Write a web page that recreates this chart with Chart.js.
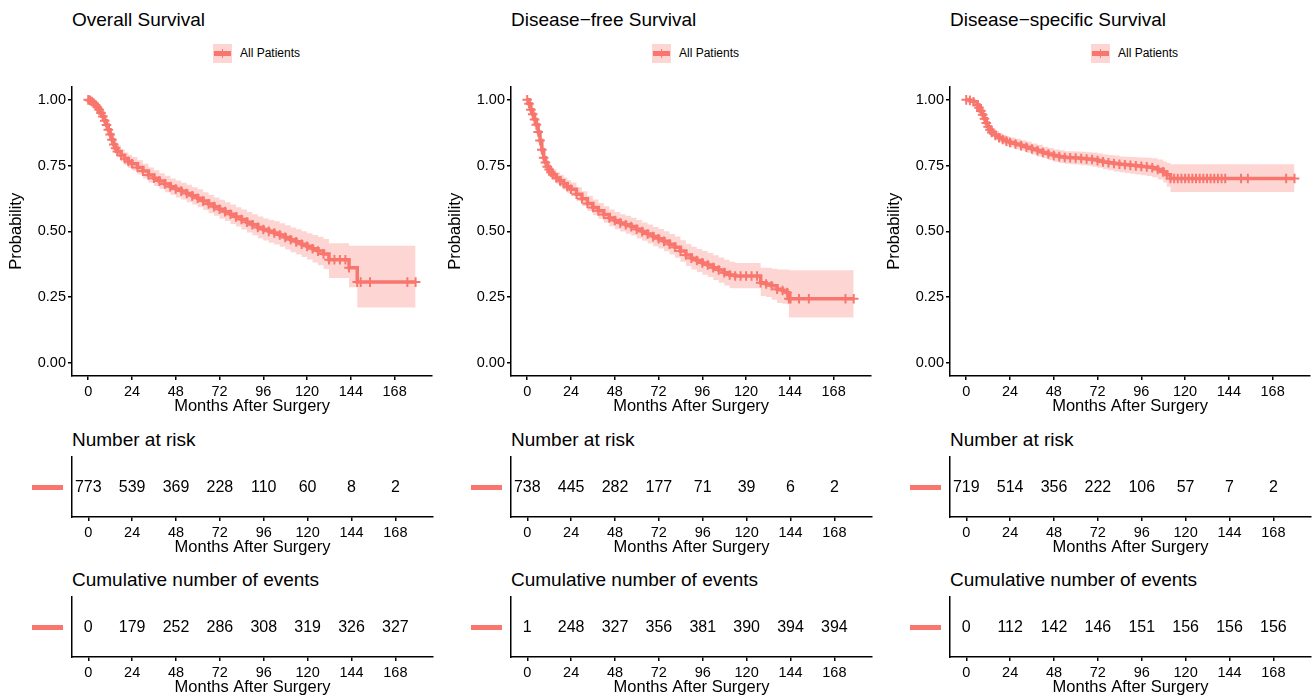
<!DOCTYPE html>
<html><head><meta charset="utf-8">
<script src="https://cdn.jsdelivr.net/npm/chart.js@4.4.1/dist/chart.umd.min.js"></script>
<style>
html,body{margin:0;padding:0;background:#fff;}
body{width:1312px;height:699px;overflow:hidden;position:relative;font-family:"Liberation Sans",Arial,Helvetica,sans-serif;color:#000;}
canvas{position:absolute;}
.ttl{position:absolute;font-size:19px;line-height:19px;white-space:nowrap;}
.lg{position:absolute;font-size:12px;line-height:12px;white-space:nowrap;}
.key{position:absolute;width:19px;height:19px;background:rgba(248,118,109,0.3);}
.key .h{position:absolute;left:1px;top:7px;width:17px;height:5px;background:#F8766D;}
.key .v{position:absolute;left:8.5px;top:5px;width:1.5px;height:9px;background:#F8766D;}
</style>
</head><body>
<script>
// ---------- data ----------
const xTicks = [0, 24, 48, 72, 96, 120, 144, 168];
const yTicks = [0, 0.25, 0.5, 0.75, 1];
const panelTitles = ["Overall Survival", "Disease\u2212free Survival", "Disease\u2212specific Survival"];
const seriesName = "All Patients";

// Overall survival
const osTime  = [0,1,2,3,4,5,6,7,8,9,10,11,12,13,14,15,16,18,20,22,24,27,30,33,36,39,42,45,48,51,54,57,60,63,66,69,72,75,78,81,84,87,90,93,96,99,102,105,108,111,114,117,120,123,126,129,132,135,138,141,143,147.5,149.4,154.5,175,179.5];
const osSurv  = [1.000,0.998,0.994,0.988,0.980,0.972,0.962,0.950,0.937,0.921,0.904,0.886,0.868,0.848,0.830,0.816,0.804,0.789,0.776,0.766,0.757,0.743,0.729,0.714,0.702,0.691,0.680,0.670,0.661,0.653,0.644,0.635,0.626,0.615,0.604,0.594,0.584,0.575,0.565,0.555,0.545,0.535,0.525,0.515,0.507,0.500,0.494,0.486,0.477,0.468,0.460,0.451,0.443,0.434,0.425,0.414,0.392,0.392,0.392,0.392,0.362,0.307,0.307,0.307,0.307,0.307];
const osLower = [1.000,0.995,0.989,0.981,0.971,0.961,0.950,0.937,0.923,0.906,0.888,0.869,0.850,0.829,0.810,0.795,0.782,0.766,0.752,0.741,0.731,0.716,0.701,0.685,0.672,0.661,0.649,0.639,0.629,0.621,0.611,0.602,0.592,0.581,0.569,0.559,0.548,0.539,0.528,0.518,0.507,0.496,0.485,0.474,0.465,0.457,0.450,0.441,0.431,0.421,0.412,0.402,0.393,0.382,0.371,0.357,0.323,0.323,0.323,0.323,0.287,0.210,0.210,0.210,0.210,0.210];
const osUpper = [1.000,1.000,0.999,0.995,0.989,0.983,0.974,0.963,0.951,0.936,0.920,0.903,0.886,0.867,0.850,0.837,0.826,0.812,0.800,0.791,0.783,0.770,0.757,0.743,0.732,0.721,0.711,0.701,0.693,0.685,0.677,0.668,0.660,0.649,0.639,0.629,0.620,0.611,0.602,0.592,0.583,0.574,0.565,0.556,0.549,0.543,0.538,0.531,0.523,0.515,0.508,0.500,0.493,0.486,0.479,0.471,0.455,0.455,0.455,0.455,0.445,0.445,0.445,0.445,0.445,0.445];
const osRisk   = [773, 539, 369, 228, 110, 60, 8, 2];
const osEvents = [0, 179, 252, 286, 308, 319, 326, 327];

// Disease-free survival
const dfsTime  = [0,1,2,3,4,5,6,7,8,9,10,11,12,13,14,16,18,20,22,24,27,30,33,36,39,42,45,48,51,54,57,60,63,66,69,72,75,78,81,84,87,90,93,96,99,102,105,108,111,114,117,120,123,126,128,131,134,137,140,142.5,143.5,144.4,149,154.4,174.5,179];
const dfsSurv  = [1.000,0.985,0.962,0.945,0.925,0.905,0.878,0.845,0.810,0.780,0.762,0.746,0.735,0.725,0.715,0.703,0.692,0.681,0.670,0.660,0.641,0.624,0.606,0.591,0.578,0.564,0.551,0.541,0.532,0.525,0.518,0.508,0.499,0.490,0.480,0.472,0.462,0.451,0.440,0.425,0.410,0.398,0.389,0.380,0.372,0.362,0.353,0.343,0.334,0.330,0.330,0.330,0.330,0.330,0.305,0.300,0.293,0.280,0.275,0.267,0.244,0.244,0.244,0.244,0.244,0.244];
const dfsLower = [1.000,0.981,0.954,0.935,0.913,0.891,0.863,0.829,0.793,0.762,0.743,0.727,0.715,0.705,0.694,0.681,0.669,0.657,0.645,0.634,0.614,0.596,0.577,0.561,0.548,0.533,0.519,0.508,0.499,0.491,0.484,0.473,0.464,0.454,0.443,0.435,0.424,0.412,0.400,0.384,0.368,0.355,0.345,0.335,0.326,0.315,0.305,0.294,0.284,0.284,0.284,0.284,0.284,0.284,0.254,0.250,0.240,0.228,0.225,0.223,0.172,0.172,0.172,0.172,0.172,0.172];
const dfsUpper = [1.000,0.989,0.970,0.955,0.937,0.919,0.893,0.861,0.827,0.798,0.781,0.765,0.755,0.745,0.736,0.725,0.715,0.705,0.695,0.686,0.668,0.652,0.635,0.621,0.608,0.595,0.583,0.574,0.565,0.559,0.552,0.543,0.534,0.526,0.517,0.509,0.500,0.490,0.480,0.466,0.452,0.441,0.433,0.425,0.418,0.409,0.401,0.392,0.384,0.380,0.380,0.380,0.380,0.380,0.362,0.362,0.358,0.355,0.355,0.355,0.352,0.352,0.352,0.352,0.352,0.352];
const dfsRisk   = [738, 445, 282, 177, 71, 39, 6, 2];
const dfsEvents = [1, 248, 327, 356, 381, 390, 394, 394];

// Disease-specific survival
const dssTime  = [0,2,4,6,7,8,9,10,11,12,13,14,16,18,20,22,24,27,30,33,36,39,42,45,48,51,54,57,60,63,66,69,72,75,78,81,84,87,90,93,96,99,102,105,108,110,112,114,116,118,120,122,124,126,128,130,132,134,136,138,140,142,150.7,154.4,175.4,180];
const dssSurv  = [1.000,0.998,0.993,0.980,0.970,0.958,0.943,0.928,0.912,0.898,0.886,0.876,0.865,0.856,0.849,0.843,0.838,0.832,0.826,0.820,0.813,0.807,0.800,0.794,0.788,0.784,0.781,0.780,0.779,0.777,0.775,0.773,0.769,0.764,0.761,0.758,0.755,0.753,0.751,0.749,0.747,0.745,0.742,0.735,0.726,0.715,0.701,0.701,0.701,0.701,0.701,0.701,0.701,0.701,0.701,0.701,0.701,0.701,0.701,0.701,0.701,0.701,0.701,0.701,0.701,0.701];
const dssLower = [1.000,0.996,0.988,0.972,0.961,0.948,0.932,0.916,0.899,0.884,0.871,0.860,0.848,0.838,0.831,0.824,0.819,0.812,0.806,0.799,0.792,0.785,0.778,0.771,0.765,0.760,0.757,0.755,0.754,0.751,0.749,0.746,0.742,0.736,0.732,0.728,0.725,0.722,0.719,0.716,0.713,0.710,0.706,0.697,0.686,0.670,0.650,0.650,0.650,0.650,0.650,0.650,0.650,0.650,0.650,0.650,0.650,0.650,0.650,0.650,0.650,0.650,0.650,0.650,0.650,0.650];
const dssUpper = [1.000,1.000,0.998,0.988,0.979,0.968,0.954,0.940,0.925,0.912,0.901,0.892,0.882,0.874,0.867,0.862,0.857,0.852,0.846,0.841,0.834,0.829,0.822,0.817,0.811,0.808,0.805,0.805,0.804,0.803,0.801,0.800,0.796,0.792,0.790,0.788,0.785,0.784,0.783,0.782,0.781,0.780,0.778,0.773,0.766,0.760,0.755,0.755,0.755,0.755,0.755,0.755,0.755,0.755,0.755,0.755,0.755,0.755,0.755,0.755,0.755,0.755,0.755,0.755,0.755,0.755];
const dssRisk   = [719, 514, 356, 222, 106, 57, 7, 2];
const dssEvents = [0, 112, 142, 146, 151, 156, 156, 156];

// ---------- style / layout ----------
const RED = '#F8766D';
const CI = 'rgba(248,118,109,0.3)';
const FONT = '"Liberation Sans", Arial, Helvetica, sans-serif';
const COLX = [72, 511, 950];
const X_MIN = -8.9, X_MAX = 188.6;

Chart.defaults.font.family = FONT;
Chart.defaults.color = '#000';

const panels = [
  {title: panelTitles[0], t: osTime, s: osSurv, lo: osLower, hi: osUpper, risk: osRisk, ev: osEvents},
  {title: panelTitles[1], t: dfsTime, s: dfsSurv, lo: dfsLower, hi: dfsUpper, risk: dfsRisk, ev: dfsEvents},
  {title: panelTitles[2], t: dssTime, s: dssSurv, lo: dssLower, hi: dssUpper, risk: dssRisk, ev: dssEvents}
];

function addDiv(cls, text, left, top) {
  const d = document.createElement('div');
  d.className = cls; d.textContent = text;
  d.style.left = left + 'px'; d.style.top = top + 'px';
  document.body.appendChild(d);
  return d;
}
function addCanvas(left, top, w, h) {
  const c = document.createElement('canvas');
  c.width = w; c.height = h;
  c.style.left = left + 'px'; c.style.top = top + 'px';
  c.style.width = w + 'px'; c.style.height = h + 'px';
  document.body.appendChild(c);
  return c;
}
function xScale() {
  return {
    type: 'linear', min: X_MIN, max: X_MAX,
    afterBuildTicks: s => { s.ticks = xTicks.map(v => ({value: v})); },
    afterFit: s => { s.height = 40; },
    ticks: {font: {size: 14.5}, color: '#000', padding: 3, maxRotation: 0, autoSkip: false, callback: v => String(v)},
    grid: {drawOnChartArea: false, drawTicks: true, tickLength: 4, color: '#000', lineWidth: 1.5},
    border: {display: true, color: '#000', width: 1.5},
    title: {display: true, text: 'Months After Surgery', font: {size: 16.5}, color: '#000', padding: {top: 0, bottom: 0}}
  };
}

const tablePlugin = {
  id: 'tableText',
  afterDatasetsDraw(chart) {
    const ctx = chart.ctx;
    const ds = chart.data.datasets[0];
    const meta = chart.getDatasetMeta(0);
    ctx.save();
    ctx.font = '16px ' + FONT;
    ctx.fillStyle = '#000';
    ctx.textAlign = 'center';
    ctx.textBaseline = 'middle';
    meta.data.forEach((pt, i) => ctx.fillText(String(ds.texts[i]), pt.x, pt.y + 1));
    const y = chart.scales.y.getPixelForValue(0.5);
    ctx.fillStyle = RED;
    ctx.fillRect(chart.chartArea.left - 40, y - 2, 31, 5);
    ctx.restore();
  }
};

function tableChart(canvas, values) {
  return new Chart(canvas, {
    type: 'line',
    data: {datasets: [{
      data: xTicks.map(t => ({x: t, y: 0.5})),
      texts: values,
      showLine: false, pointRadius: 0, borderWidth: 0
    }]},
    options: {
      responsive: false, animation: false, events: [],
      layout: {padding: {top: 7, right: 6, bottom: 0, left: 0}},
      plugins: {legend: {display: false}, tooltip: {enabled: false}},
      scales: {
        x: xScale(),
        y: {type: 'linear', min: 0, max: 1,
            afterFit: s => { s.width = 72; },
            ticks: {display: false},
            grid: {display: false, drawTicks: false},
            border: {display: true, color: '#000', width: 1.5}}
      }
    },
    plugins: [tablePlugin]
  });
}

function kmChart(canvas, p) {
  const pts = ys => p.t.map((t, i) => ({x: t, y: ys[i]}));
  return new Chart(canvas, {
    type: 'line',
    data: {datasets: [
      {data: pts(p.lo), stepped: true, borderWidth: 0, borderColor: 'rgba(0,0,0,0)', pointRadius: 0, fill: false},
      {data: pts(p.hi), stepped: true, borderWidth: 0, borderColor: 'rgba(0,0,0,0)', pointRadius: 0, fill: '-1', backgroundColor: CI},
      {label: seriesName, data: pts(p.s), stepped: true, borderColor: RED, borderWidth: 3.5, fill: false,
       pointStyle: 'cross', pointRadius: 4.8, pointBorderWidth: 2, pointBorderColor: RED, pointBackgroundColor: RED}
    ]},
    options: {
      responsive: false, animation: false, events: [],
      layout: {padding: {top: 6, right: 6, bottom: 0, left: 0}},
      plugins: {legend: {display: false}, tooltip: {enabled: false}},
      scales: {
        x: xScale(),
        y: {type: 'linear', min: -0.05, max: 1.05,
            afterBuildTicks: s => { s.ticks = yTicks.map(v => ({value: v})); },
            afterFit: s => { s.width = 72; },
            ticks: {font: {size: 14.5}, color: '#000', padding: 2, callback: v => Number(v).toFixed(2)},
            grid: {drawOnChartArea: false, drawTicks: true, tickLength: 4, color: '#000', lineWidth: 1.5},
            border: {display: true, color: '#000', width: 1.5},
            title: {display: true, text: 'Probability', font: {size: 16.5}, color: '#000', padding: {top: 7, bottom: 0}}}
      }
    }
  });
}

panels.forEach((p, i) => {
  const cx = COLX[i];
  addDiv('ttl', p.title, cx, 10);
  const key = document.createElement('div');
  key.className = 'key';
  key.style.left = (cx + 141) + 'px'; key.style.top = '44px';
  key.innerHTML = '<div class="h"></div><div class="v"></div>';
  document.body.appendChild(key);
  addDiv('lg', seriesName, cx + 168, 47);

  kmChart(addCanvas(cx - 72, 76, 439, 340), p);

  addDiv('ttl', 'Number at risk', cx, 430);
  tableChart(addCanvas(cx - 72, 450, 439, 107), p.risk);

  addDiv('ttl', 'Cumulative number of events', cx, 570);
  tableChart(addCanvas(cx - 72, 590, 439, 107), p.ev);
});
</script>
</body></html>
